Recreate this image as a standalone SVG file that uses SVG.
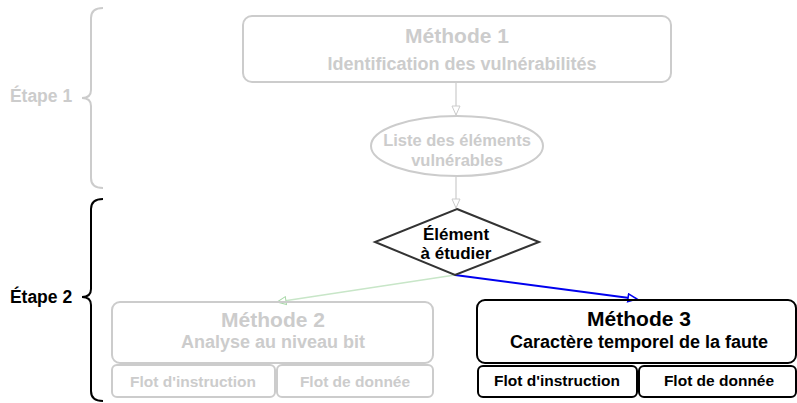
<svg xmlns="http://www.w3.org/2000/svg" width="797" height="403" viewBox="0 0 797 403">
<style>
text{font-family:"Liberation Sans",Arial,sans-serif;font-weight:bold;text-anchor:middle}
.g{fill:#cccccc}
.k{fill:#000}
.gs{fill:none;stroke:#cccccc;stroke-width:2}
.ks{fill:none;stroke:#000;stroke-width:2}
</style>
<defs>
<marker id="ag" markerWidth="12" markerHeight="10" refX="10" refY="5" orient="auto" markerUnits="userSpaceOnUse"><path d="M1,1 L10,5 L1,9 Z" fill="#fff" stroke="#cccccc" stroke-width="1"/></marker>
<marker id="agr" markerWidth="12" markerHeight="10" refX="10" refY="5" orient="auto" markerUnits="userSpaceOnUse"><path d="M1,1 L10,5 L1,9 Z" fill="#fff" stroke="#a8d8a8" stroke-width="1"/></marker>
<marker id="ab" markerWidth="12" markerHeight="10" refX="10" refY="5" orient="auto" markerUnits="userSpaceOnUse"><path d="M1,1 L10,5 L1,9 Z" fill="#fff" stroke="#0000ee" stroke-width="1.5"/></marker>
</defs>
<g id="etape1">
<path class="gs" d="M103,8 Q91,8 91,18 L91,90 Q91,98 82,98 Q91,98 91,106 L91,178 Q91,188 103,188"/>
<text class="g" x="41" y="102" font-size="17.5">Étape 1</text>
</g>
<g id="etape2">
<path class="ks" d="M103,199 Q91,199 91,209 L91,289 Q91,297 82,297 Q91,297 91,305 L91,391 Q91,401 103,401"/>
<text class="k" x="41" y="303" font-size="17.5">Étape 2</text>
</g>
<g id="connectors">
<line x1="456" y1="82" x2="456" y2="115" stroke="#cccccc" stroke-width="1.2" marker-end="url(#ag)"/>
<line x1="456" y1="176" x2="456" y2="208" stroke="#cccccc" stroke-width="1.2" marker-end="url(#ag)"/>
<line x1="455" y1="275" x2="277" y2="302" stroke="#c8e6c8" stroke-width="1.5" marker-end="url(#agr)"/>
<line x1="455" y1="275" x2="637" y2="299" stroke="#0000ee" stroke-width="1.8" marker-end="url(#ab)"/>
</g>
<g id="methode1">
<rect class="gs" x="243" y="16" width="428" height="66" rx="9"/>
<text class="g" x="457" y="43" font-size="21">Méthode 1</text>
<text class="g" x="462" y="70" font-size="18">Identification des vulnérabilités</text>
</g>
<g id="liste">
<ellipse class="gs" cx="457" cy="146" rx="86" ry="30"/>
<text class="g" x="457" y="146" font-size="16.5">Liste des éléments</text>
<text class="g" x="457" y="166" font-size="16.5">vulnérables</text>
</g>
<g id="element">
<path fill="#fff" stroke="#333" stroke-width="2" d="M457,209 L539,242 L455,275 L375,242 Z"/>
<text class="k" x="456" y="240" font-size="17">Élément</text>
<text class="k" x="456" y="259" font-size="17">à étudier</text>
</g>
<g id="methode2">
<rect class="gs" x="112" y="302" width="321" height="61" rx="8"/>
<text class="g" x="273" y="327" font-size="21">Méthode 2</text>
<text class="g" x="273" y="348" font-size="18">Analyse au niveau bit</text>
<rect class="gs" x="112" y="365" width="163" height="32" rx="5"/>
<text class="g" x="193" y="387" font-size="15.5">Flot d'instruction</text>
<rect class="gs" x="277" y="365" width="156" height="32" rx="5"/>
<text class="g" x="355" y="387" font-size="15.5">Flot de donnée</text>
</g>
<g id="methode3">
<rect class="ks" x="477" y="300" width="319" height="63" rx="8"/>
<text class="k" x="639" y="326" font-size="21">Méthode 3</text>
<text class="k" x="639" y="348" font-size="18">Caractère temporel de la faute</text>
<rect class="ks" x="478" y="366" width="159" height="31" rx="5"/>
<text class="k" x="557" y="386" font-size="15.5">Flot d'instruction</text>
<rect class="ks" x="639" y="366" width="157" height="31" rx="5"/>
<text class="k" x="719" y="386" font-size="15.5">Flot de donnée</text>
</g>
</svg>
